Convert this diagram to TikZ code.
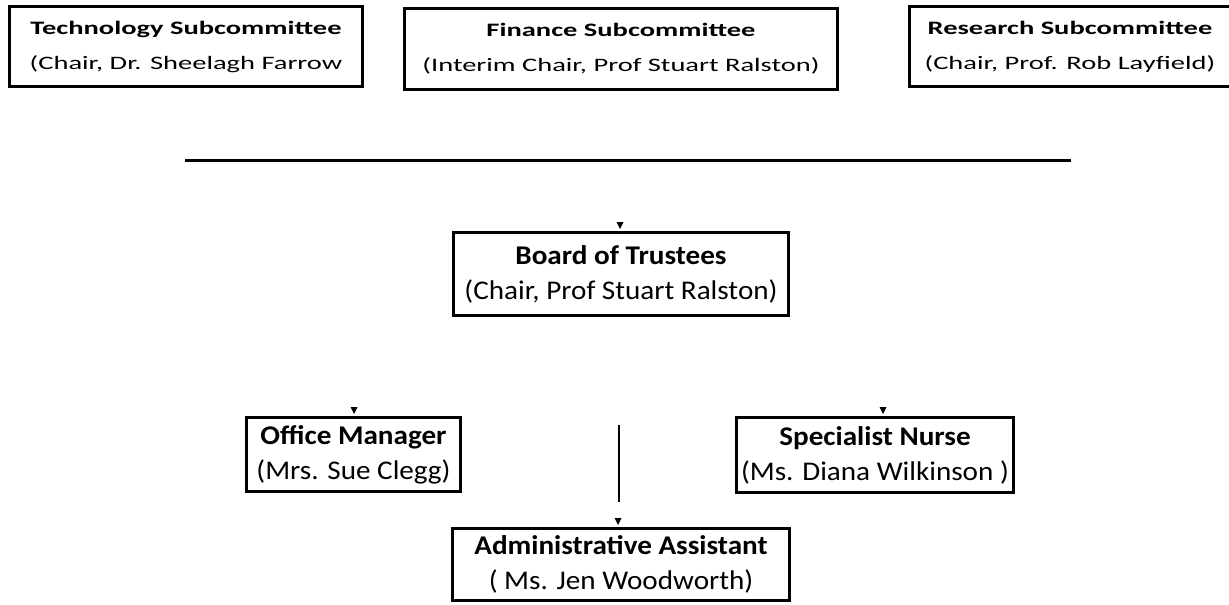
\documentclass[tikz,border=0pt]{standalone}
\usepackage{fontspec}
\setmainfont{Carlito}
\newfontfamily\widefont{Carlito}[FakeStretch=1.5]
\newfontfamily\lowfont{Carlito}[FakeStretch=1.08]
\begin{document}
\begin{tikzpicture}[x=1pt,y=1pt,
  topbox/.style={draw=black, line width=3pt, rectangle, inner sep=0pt, align=center,
     font=\widefont\fontsize{19}{35}\selectfont},
  lowbox/.style={draw=black, line width=3pt, rectangle, inner sep=0pt, align=center,
     font=\lowfont\fontsize{27}{35}\selectfont},
  rule/.style={line width=3pt},
  vrule/.style={line width=2.2pt},
  tick/.style={fill=black}
]
\useasboundingbox (0,0) rectangle (1229,-605);
% top row
\node[topbox, minimum width=353pt, minimum height=80pt] (tech) at (186,-46.5)
  {\textbf{Technology Subcommittee}\\(Chair, Dr. Sheelagh Farrow};
\node[topbox, minimum width=433pt, minimum height=81pt] (fin) at (621,-49)
  {\textbf{Finance Subcommittee}\\(Interim Chair, Prof Stuart Ralston)};
\node[topbox, minimum width=321pt, minimum height=80pt] (res) at (1070,-46.5)
  {\textbf{Research Subcommittee}\\(Chair, Prof. Rob Layfield)};
% horizontal rule
\coordinate (hl) at (185,-160);
\coordinate (hr) at (1071,-160);
\draw[rule] (hl) -- (hr);
% board
\node[lowbox, minimum width=335pt, minimum height=83pt] (board) at (621,-274)
  {\textbf{Board of Trustees}\\(Chair, Prof Stuart Ralston)};
% staff
\node[lowbox, minimum width=214pt, minimum height=74pt] (office) at (353.5,-454.5)
  {\textbf{Office Manager}\\(Mrs. Sue Clegg)};
\node[lowbox, minimum width=277pt, minimum height=75pt] (nurse) at (875,-455)
  {\textbf{Specialist Nurse}\\(Ms. Diana Wilkinson )};
\node[lowbox, minimum width=337pt, minimum height=72pt] (admin) at (621,-564.5)
  {\textbf{Administrative Assistant}\\( Ms. Jen Woodworth)};
% vertical line
\coordinate (vt) at (619,-425);
\coordinate (vb) at (619,-502);
\draw[vrule] (vt) -- (vb);
% small ticks
\fill[tick] ([xshift=-1pt,yshift=2pt]board.north) -- ++(-3.5,7) -- ++(7,0) -- cycle;
\fill[tick] ([xshift=0.5pt,yshift=2pt]office.north) -- ++(-3.5,7) -- ++(7,0) -- cycle;
\fill[tick] ([xshift=8pt,yshift=2pt]nurse.north) -- ++(-3.5,7) -- ++(7,0) -- cycle;
\fill[tick] ([xshift=-3pt,yshift=2pt]admin.north) -- ++(-3.5,7) -- ++(7,0) -- cycle;
\end{tikzpicture}
\end{document}
